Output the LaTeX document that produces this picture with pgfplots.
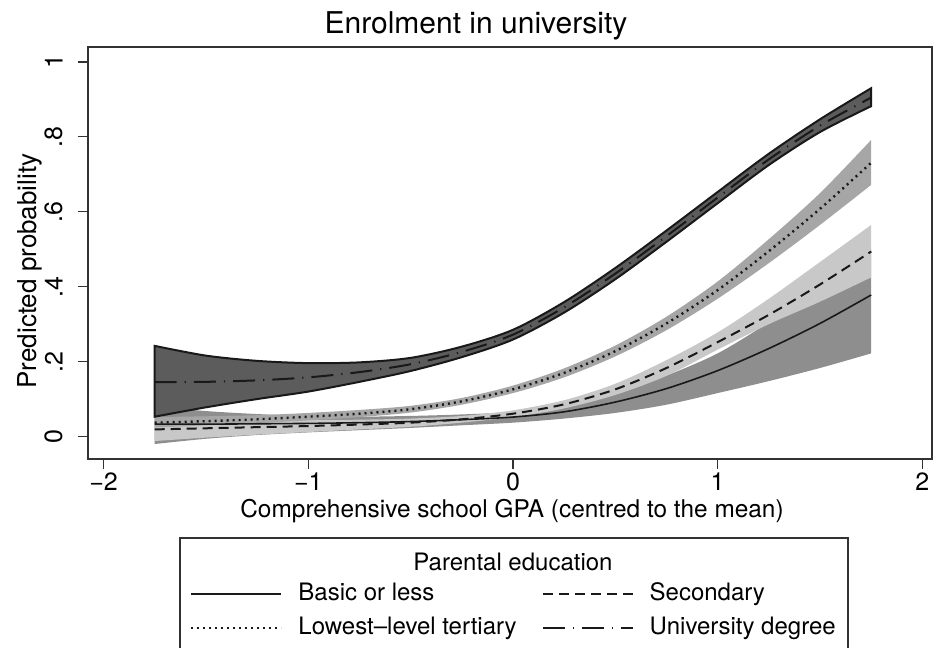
\documentclass[border=0pt]{standalone}
\usepackage{fontspec}
\setmainfont{TeX Gyre Heros}
\usepackage{pgfplots}
\pgfplotsset{compat=1.18}
\usepackage{pgfplotstable}
\usepgfplotslibrary{fillbetween}

\definecolor{bandbasic}{RGB}{142,142,142}
\definecolor{bandsec}{RGB}{200,200,200}
\definecolor{bandter}{RGB}{166,166,166}
\definecolor{banduni}{RGB}{92,92,92}
\definecolor{axisgray}{RGB}{50,50,50}

% predicted probability with confidence band, per parental education
\pgfplotstableread{
x p lo hi
-1.75 0.033 -0.020 0.080
-1.50 0.033 -0.006 0.068
-1.25 0.034 0.004 0.060
-1.00 0.035 0.011 0.055
-0.75 0.037 0.017 0.053
-0.50 0.040 0.023 0.055
-0.25 0.045 0.030 0.059
0.00 0.052 0.037 0.066
0.25 0.066 0.048 0.084
0.50 0.092 0.063 0.118
0.75 0.128 0.085 0.163
1.00 0.176 0.116 0.222
1.25 0.235 0.148 0.305
1.50 0.302 0.183 0.400
1.75 0.378 0.222 0.500
}\basic

\pgfplotstableread{
x p lo hi
-1.75 0.019 -0.012 0.050
-1.50 0.022 -0.003 0.047
-1.25 0.025 0.005 0.045
-1.00 0.028 0.012 0.044
-0.75 0.032 0.019 0.045
-0.50 0.037 0.026 0.048
-0.25 0.046 0.037 0.055
0.00 0.061 0.052 0.070
0.25 0.086 0.075 0.097
0.50 0.126 0.111 0.141
0.75 0.183 0.162 0.204
1.00 0.252 0.232 0.278
1.25 0.325 0.300 0.368
1.50 0.406 0.360 0.466
1.75 0.494 0.425 0.565
}\secondary

\pgfplotstableread{
x p lo hi
-1.75 0.037 0.024 0.052
-1.50 0.041 0.030 0.054
-1.25 0.046 0.036 0.057
-1.00 0.053 0.043 0.063
-0.75 0.061 0.052 0.071
-0.50 0.073 0.064 0.082
-0.25 0.094 0.085 0.103
0.00 0.126 0.116 0.136
0.25 0.170 0.158 0.182
0.50 0.228 0.214 0.243
0.75 0.302 0.284 0.320
1.00 0.391 0.368 0.414
1.25 0.495 0.463 0.527
1.50 0.608 0.565 0.650
1.75 0.731 0.672 0.792
}\tertiary

\pgfplotstableread{
x p lo hi
-1.75 0.145 0.053 0.242
-1.50 0.146 0.078 0.216
-1.25 0.150 0.100 0.202
-1.00 0.158 0.120 0.196
-0.75 0.172 0.146 0.198
-0.50 0.193 0.175 0.210
-0.25 0.226 0.212 0.240
0.00 0.272 0.259 0.285
0.25 0.345 0.331 0.359
0.50 0.435 0.420 0.450
0.75 0.535 0.520 0.550
1.00 0.638 0.623 0.653
1.25 0.740 0.725 0.755
1.50 0.830 0.813 0.847
1.75 0.905 0.882 0.930
}\university

\begin{document}
\begin{tikzpicture}[x=1pt,y=1pt]
\begin{axis}[
    at={(0,0)}, anchor=south west,
    scale only axis,
    width=422pt, height=206pt,
    xmin=-2.076, xmax=2.047,
    ymin=-0.060, ymax=1.040,
    xtick={-2,-1,0,1,2},
    xticklabels={−2,−1,0,1,2},
    ytick={0,0.2,0.4,0.6,0.8,1},
    yticklabels={0,.2,.4,.6,.8,1},
    xtick pos=left, ytick pos=left,
    tick align=outside,
    major tick length=5pt,
    tick style={axisgray, line width=0.6pt},
    axis line style={axisgray, line width=0.6pt},
    ticklabel style={font=\fontsize{12.5}{14}\selectfont, inner sep=1.5pt},
    yticklabel style={rotate=90, anchor=south},
    yticklabel shift=6pt,
    legend columns=2,
    legend cell align=left,
    legend image code/.code={\draw[#1] (0pt,0pt) -- (45pt,0pt);},
    legend style={at={(axis description cs:0.1209,-0.369)}, anchor=west,
        draw=none, fill=none, inner sep=0pt, outer sep=0pt,
        font=\fontsize{12}{14}\selectfont, row sep=5pt,
        nodes={inner sep=0pt, text height=9pt, text depth=3pt},
        /tikz/every odd column/.append style={column sep=8pt},
        /tikz/every even column/.append style={column sep=12.5pt}},
]

% bands
\addplot[draw=none, smooth, name path=bl, forget plot] table[x=x, y=lo] {\basic};
\addplot[draw=none, smooth, name path=bh, forget plot] table[x=x, y=hi] {\basic};
\addplot[fill=bandbasic, draw=none, forget plot] fill between[of=bl and bh];

\addplot[draw=none, smooth, name path=sl, forget plot] table[x=x, y=lo] {\secondary};
\addplot[draw=none, smooth, name path=sh, forget plot] table[x=x, y=hi] {\secondary};
\addplot[fill=bandsec, draw=none, forget plot] fill between[of=sl and sh];

\addplot[draw=none, smooth, name path=tl, forget plot] table[x=x, y=lo] {\tertiary};
\addplot[draw=none, smooth, name path=th, forget plot] table[x=x, y=hi] {\tertiary};
\addplot[fill=bandter, draw=none, forget plot] fill between[of=tl and th];

\addplot[draw=none, smooth, name path=ul, forget plot] table[x=x, y=lo] {\university};
\addplot[draw=none, smooth, name path=uh, forget plot] table[x=x, y=hi] {\university};
\addplot[fill=banduni, draw=black!90, line width=1pt, forget plot] fill between[of=ul and uh];

% predicted lines
\addplot[black!90, line width=0.8pt, smooth] table[x=x, y=p] {\basic};
\addlegendentry{Basic or less}
\addplot[black!90, line width=1pt, dash pattern=on 5pt off 3pt, smooth] table[x=x, y=p] {\secondary};
\addlegendentry{Secondary}
\addplot[black!90, line width=1.2pt, dash pattern=on 1pt off 2pt, smooth] table[x=x, y=p] {\tertiary};
\addlegendentry{Lowest--level tertiary}
\addplot[black!90, line width=1pt, dash pattern=on 11pt off 4pt on 0.6pt off 4pt, smooth] table[x=x, y=p] {\university};
\addlegendentry{University degree}
\end{axis}

\node[anchor=base, font=\fontsize{15}{18}\selectfont] at (194,212.5) {Enrolment in university};
\node[anchor=base, font=\fontsize{12.2}{14}\selectfont] at (212,-29) {Comprehensive school GPA (centred to the mean)};
\node[anchor=base, rotate=90, font=\fontsize{13}{15}\selectfont] at (-26,94) {Predicted probability};

\draw[axisgray, line width=0.6pt] (46,-39.5) rectangle (380,-120);
\node[anchor=base, font=\fontsize{12}{14}\selectfont] at (212.5,-55.5) {Parental education};

\pgfresetboundingbox
\path[use as bounding box] (-44,-94) rectangle (426.5,229.5);
\end{tikzpicture}
\end{document}
